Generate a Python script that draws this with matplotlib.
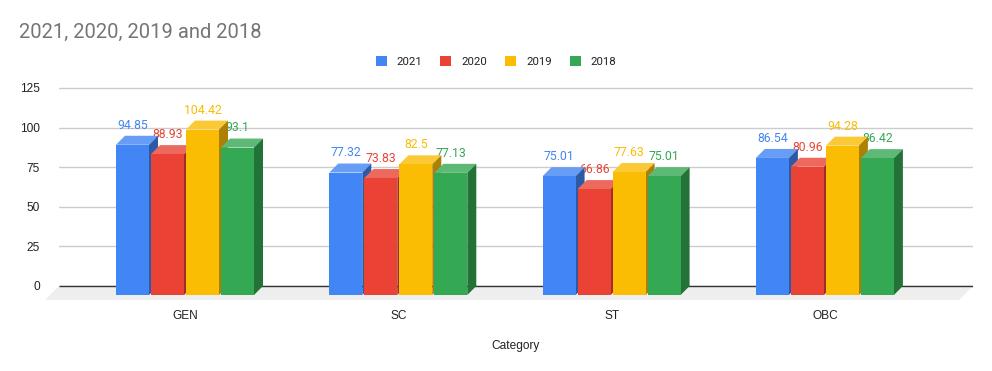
import matplotlib.pyplot as plt
import numpy as np
from matplotlib.patches import Polygon, Patch
from matplotlib.colors import to_rgb

categories = ['GEN', 'SC', 'ST', 'OBC']
years = ['2021', '2020', '2019', '2018']
v2021 = [94.85, 77.32, 75.01, 86.54]
v2020 = [88.93, 73.83, 66.86, 80.96]
v2019 = [104.42, 82.5, 77.63, 94.28]
v2018 = [93.1, 77.13, 75.01, 86.42]
yticks = [0, 25, 50, 75, 100, 125]

series = [v2021, v2020, v2019, v2018]
colors = ['#4285F4', '#EA4335', '#FBBC04', '#34A853']

plt.rcParams['font.family'] = ['Roboto', 'DejaVu Sans']

W, H = 992, 371
fig = plt.figure(figsize=(W / 100, H / 100), dpi=100)

# axes box in pixels (left 59, right 973, top 80, bottom 302)
px_top, px_bot = 80, 302
ax = fig.add_axes([59 / W, 1 - px_bot / H, 914 / W, (px_bot - px_top) / H])

ppu_y = 198 / 125.0   # pixels per value unit
ppu_x = 213.3         # pixels per category
ax.set_ylim(-(px_bot - 286) / ppu_y, (286 - px_top) / ppu_y)
x0 = -126 / ppu_x
ax.set_xlim(x0, x0 + 914 / ppu_x)

# 3d depth offsets
bdx, bdy = 9 / ppu_x, 9 / ppu_y
fdx, fdy = 14 / ppu_x, 14 / ppu_y
bw = 33 / ppu_x
stride = 35 / ppu_x

def lighten(c, f=0.2):
    r = np.array(to_rgb(c))
    return tuple(r * (1 - f) + f)

def darken(c, f=0.68):
    return tuple(np.array(to_rgb(c)) * f)

# floor
xl, xr = ax.get_xlim()
floor = Polygon([(xl, 0), (xr, 0), (xr - fdx, -fdy), (xl - fdx, -fdy)],
                closed=True, facecolor='#EEEEEE', edgecolor='none',
                zorder=1, clip_on=False)
ax.add_patch(floor)
ax.plot([xl, xr], [0, 0], color='#333333', lw=1.0, zorder=1.5,
        solid_capstyle='butt')

x = np.arange(len(categories))
for k, vals in enumerate(series):
    c = colors[k]
    xc = x + (k - 1.5) * stride
    z = 3 + k
    ax.bar(xc, vals, width=bw, bottom=-bdy, color=c, zorder=z + 0.2,
           linewidth=0)
    for xi, v in zip(xc, vals):
        left, right = xi - bw / 2, xi + bw / 2
        top = Polygon([(left, v - bdy), (left + bdx, v), (right + bdx, v),
                       (right, v - bdy)], closed=True,
                      facecolor=lighten(c), edgecolor='none', zorder=z)
        side = Polygon([(right, -bdy), (right + bdx, 0), (right + bdx, v),
                        (right, v - bdy)], closed=True,
                       facecolor=darken(c), edgecolor='none', zorder=z)
        ax.add_patch(top)
        ax.add_patch(side)
        ax.annotate(f'{v:g}', (xi, v), xytext=(0, 7.6),
                    textcoords='offset points', ha='center', va='center',
                    color=c, fontsize=8.8, zorder=2.5)

ax.set_yticks(yticks)
ax.set_xticks(x)
ax.set_xticklabels(categories)
ax.yaxis.grid(True, color='#CCCCCC', lw=1)
ax.set_axisbelow(True)
for s in ax.spines.values():
    s.set_visible(False)
ax.tick_params(axis='y', length=0, pad=13.7, labelsize=8.6, labelcolor='#222222')
ax.tick_params(axis='x', length=0, pad=5.5, labelsize=8.6, labelcolor='#222222')
for lab in ax.get_xticklabels() + ax.get_yticklabels():
    lab.set_family(['Liberation Sans', 'DejaVu Sans'])
ax.set_xlabel('Category', fontsize=8.6, color='#222222', labelpad=13,
              family=['Liberation Sans', 'DejaVu Sans'])

handles = [Patch(facecolor=c, edgecolor='none') for c in colors]
fig.legend(handles, years, loc='center', bbox_to_anchor=(0.5, 1 - 61.5 / H),
           ncol=4, frameon=False, fontsize=8.2, handlelength=0.96,
           handleheight=0.96, handletextpad=0.88, columnspacing=1.58,
           labelcolor='#222222')

fig.text(19 / W, 1 - 32 / H, '2021, 2020, 2019 and 2018', fontsize=14.5,
         color='#757575', va='center', ha='left')

fig.savefig('out.png', dpi=100, facecolor='white')
